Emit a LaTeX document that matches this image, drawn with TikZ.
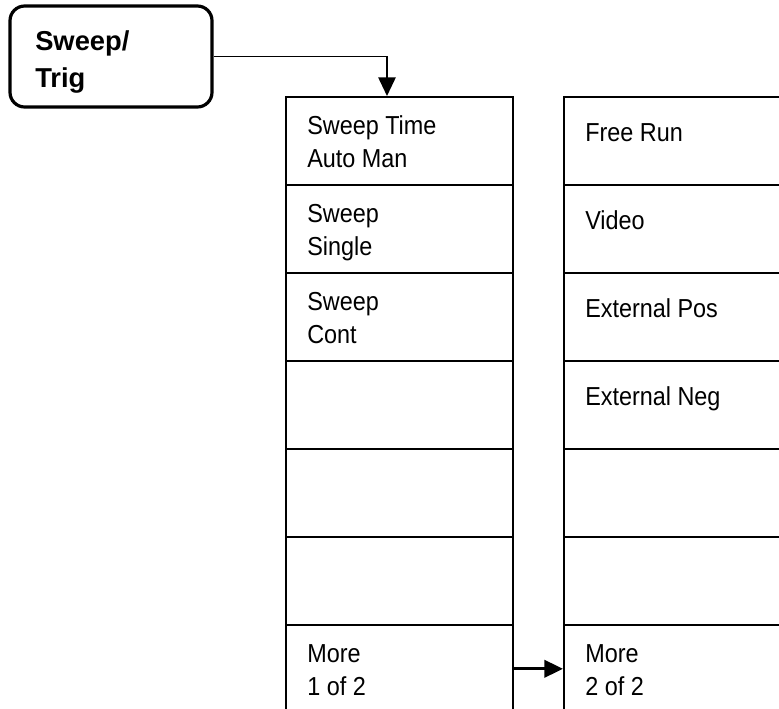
\documentclass[tikz,border=0pt]{standalone}
\usepackage{fontspec}
\setmainfont{Liberation Sans}
\newfontfamily\keyfont[FakeStretch=0.9]{Liberation Sans}
\usetikzlibrary{arrows.meta}

\begin{document}
\begin{tikzpicture}[x=0.75pt,y=-0.75pt,
    hardkey/.style={draw, line width=2.4pt, rounded corners=11pt, minimum width=151.5pt, minimum height=75.75pt},
    softkey/.style={draw, line width=1.2pt, anchor=north west, minimum width=170.25pt, minimum height=66pt},
    keytext/.style={anchor=base west, align=left, inner sep=0pt, font=\keyfont\fontsize{19.5}{24.75}\selectfont},
    link/.style={line width=1.3pt, -{Triangle[length=14pt,width=13pt]}}]
    \useasboundingbox (0,0) rectangle (779,708);
    \clip (0,0) rectangle (779,708);
    % front panel key
    \node[hardkey] (trig) at (111,56.5) {};
    \node[keytext, font=\fontsize{20.5}{27.75}\selectfont\bfseries] (trigtext) at (35,87) {Sweep/\\Trig};
    % softkey menus
    \foreach \i in {1,...,7} {
        \node[softkey] (a\i) at (285,{96+(\i-1)*88}) {};
        \node[softkey, minimum width=180pt] (b\i) at (563,{96+(\i-1)*88}) {};
    }
    \foreach \i/\t in {1/{Sweep Time\\Auto Man},2/{Sweep\\Single},3/{Sweep\\Cont},7/{More\\1 of 2}} {
        \node[keytext] (at\i) at ([shift={(22,71.5)}]a\i.north west) {\t};
    }
    \foreach \i/\t in {1/Free Run,2/Video,3/External Pos,4/External Neg} {
        \node[keytext] (bt\i) at ([shift={(22,45.5)}]b\i.north west) {\t};
    }
    \node[keytext] (bt7) at ([shift={(22,71.5)}]b7.north west) {More\\2 of 2};
    % connectors
    \coordinate (drop) at (387,96);
    \draw[link] (trig.east) -| (drop);
    \draw[link, line width=2.2pt] (a7.east) -- (b7.west);
\end{tikzpicture}
\end{document}
